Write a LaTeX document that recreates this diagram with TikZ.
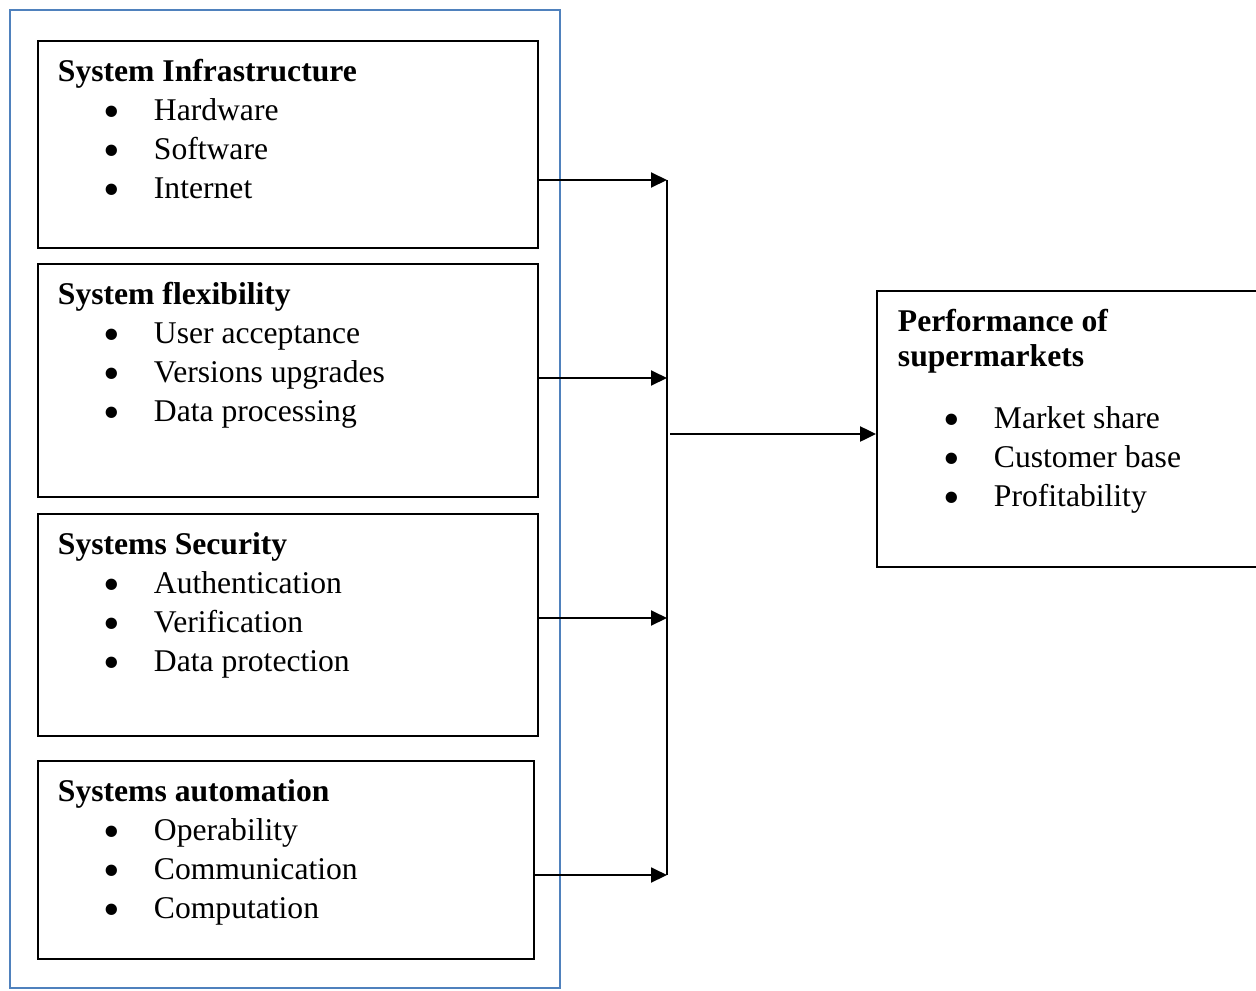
\documentclass[tikz,border=0pt]{standalone}
\usepackage{fontspec}
\setmainfont{Liberation Serif}
\usetikzlibrary{positioning,arrows.meta}
\definecolor{kehys}{RGB}{79,129,189}
\newcommand{\kohta}[1]{\makebox[1.92cm][l]{\hspace*{1.08cm}\makebox[0pt]{\raisebox{-0.21em}{\scalebox{1.5}{\textbullet}}}}#1}

\begin{document}
\begin{tikzpicture}[x=0.02cm, y=-0.02cm, line width=1.1pt,
                    laatikko/.style={draw, anchor=north west, inner sep=0pt, minimum width=10cm},
                    teksti/.style={anchor=north west, inner sep=0pt, align=left,
                                   font=\fontsize{18}{22.2}\selectfont},
                    nuoli/.style={-{Triangle[length=0.32cm,width=0.3cm]}}]

\useasboundingbox (0,0) rectangle (1256,990);

% group frame
\draw[kehys, line width=0.85pt] (10,10) rectangle (560,988);

\node[laatikko, minimum height=4.14cm] (infra) at (37,40) {};
\node[laatikko, minimum height=4.66cm] (flex) at (37,263) {};
\node[laatikko, minimum height=4.44cm] (secu) at (37,513) {};
\node[laatikko, minimum height=3.96cm, minimum width=9.92cm] (autom) at (37,760) {};
\node[laatikko, minimum height=5.52cm, minimum width=7.72cm] (perf) at (876,290) {};

\node[teksti] (infraT) [below right=0.37cm and 0.4cm of infra.north west]
    {\textbf{System Infrastructure}\\ \kohta{Hardware}\\ \kohta{Software}\\ \kohta{Internet}};
\node[teksti] (flexT) [below right=0.37cm and 0.4cm of flex.north west]
    {\textbf{System flexibility}\\ \kohta{User acceptance}\\ \kohta{Versions upgrades}\\ \kohta{Data processing}};
\node[teksti] (secuT) [below right=0.37cm and 0.4cm of secu.north west]
    {\textbf{Systems Security}\\ \kohta{Authentication}\\ \kohta{Verification}\\ \kohta{Data protection}};
\node[teksti] (automT) [below right=0.37cm and 0.4cm of autom.north west]
    {\textbf{Systems automation}\\ \kohta{Operability}\\ \kohta{Communication}\\ \kohta{Computation}};
\node[teksti] (perfT) [below right=0.37cm and 0.42cm of perf.north west]
    {\textbf{Performance of}\\[-0.08cm] \textbf{supermarkets}\\[0.46cm] \kohta{Market share}\\ \kohta{Customer base}\\ \kohta{Profitability}};

% joining line
\coordinate (p1) at (667,180);
\coordinate (p2) at (667,378);
\coordinate (p3) at (667,618);
\coordinate (p4) at (667,875);
\coordinate (pm) at (670,434);

\draw[nuoli] (infra.east |- p1) -- (p1);
\draw[nuoli] (flex.east |- p2) -- (p2);
\draw[nuoli] (secu.east |- p3) -- (p3);
\draw[nuoli] (autom.east |- p4) -- (p4);
\draw (p1) -- (p4);
\draw[nuoli, line width=1.4pt] (pm) -- (pm -| perf.west);
\end{tikzpicture}
\end{document}
